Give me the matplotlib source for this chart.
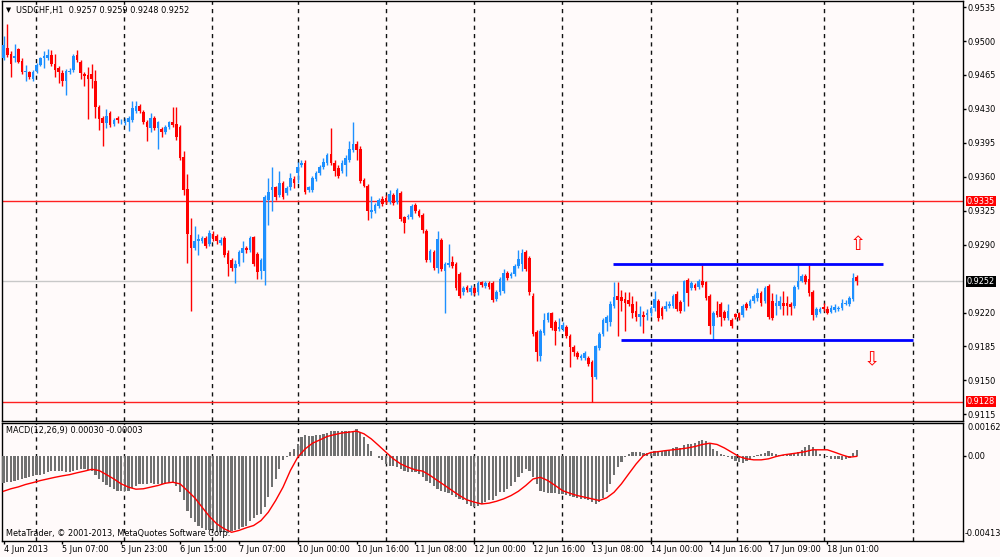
import numpy as np
import matplotlib
matplotlib.use("Agg")
import matplotlib.pyplot as plt
from matplotlib.transforms import blended_transform_factory

# ---------------- data (prices in pips = price * 10000) ----------------
opens_pips = [
9482,9493,9487,9483,9492,9479,9468,9468,9461,9469,9475,9482,9482,9486,9476,9472,9467,9459,9468,9470,
9486,9478,9466,9465,9466,9459,9432,9421,9415,9426,9414,9421,9416,9415,9416,9419,9428,9433,9427,9417,
9410,9421,9410,9409,9406,9411,9416,9414,9411,9380,9347,9300,9287,9294,9294,9297,9291,9301,9299,9292,
9297,9281,9274,9266,9270,9281,9287,9284,9298,9280,9263,9263,9336,9346,9349,9341,9354,9343,9349,9358,
9364,9372,9374,9346,9346,9358,9364,9370,9374,9384,9374,9369,9366,9372,9377,9388,9394,9389,9357,9351,
9324,9325,9330,9337,9338,9334,9341,9334,9343,9318,9318,9318,9331,9325,9321,9304,9274,9282,9266,9295,
9263,9269,9272,9270,9260,9241,9246,9241,9245,9241,9251,9247,9250,9250,9234,9241,9242,9261,9258,9260,
9268,9270,9282,9276,9237,9200,9175,9199,9212,9219,9210,9203,9203,9205,9196,9184,9178,9173,9173,9173,
9169,9153,9183,9198,9209,9210,9227,9237,9236,9234,9233,9229,9222,9215,9217,9217,9219,9225,9232,9225,
9224,9227,9227,9239,9231,9231,9254,9245,9248,9246,9253,9251,9237,9206,9222,9229,9221,9214,9212,9218,
9219,9217,9229,9227,9232,9235,9240,9232,9247,9232,9227,9227,9230,9230,9229,9227,9246,9253,9258,9255,
9241,9217,9221,9226,9224,9221,9223,9224,9225,9229,9229,9234,9257]
closes_pips = [
9496,9486,9476,9485,9478,9468,9469,9463,9468,9475,9482,9485,9486,9476,9470,9468,9459,9469,9469,9485,
9480,9467,9464,9461,9461,9432,9420,9415,9423,9413,9419,9419,9417,9417,9421,9431,9433,9428,9416,9411,
9421,9410,9416,9406,9411,9416,9413,9401,9379,9346,9301,9287,9294,9296,9297,9289,9302,9296,9294,9295,
9279,9270,9266,9270,9282,9287,9284,9297,9270,9262,9274,9339,9344,9349,9339,9354,9339,9348,9359,9354,
9370,9374,9344,9349,9359,9364,9370,9375,9382,9374,9366,9361,9374,9379,9389,9394,9388,9356,9351,9325,
9326,9331,9336,9332,9334,9342,9333,9346,9316,9312,9320,9330,9325,9320,9305,9274,9283,9266,9296,9265,
9270,9271,9268,9245,9237,9245,9243,9245,9240,9250,9248,9250,9246,9233,9241,9255,9261,9256,9260,9268,
9275,9281,9265,9241,9198,9179,9201,9212,9219,9204,9201,9205,9207,9196,9184,9179,9174,9175,9178,9167,
9153,9185,9198,9212,9215,9229,9236,9233,9232,9230,9229,9219,9215,9218,9215,9220,9225,9234,9214,9216,
9227,9229,9237,9224,9222,9252,9240,9250,9245,9253,9248,9235,9206,9220,9217,9215,9214,9222,9206,9215,
9214,9227,9225,9232,9237,9240,9230,9245,9215,9214,9230,9232,9227,9227,9226,9246,9253,9258,9251,9240,
9217,9224,9224,9224,9220,9225,9226,9225,9230,9230,9235,9256,9252]
highs_pips = [
9505,9518,9490,9497,9493,9483,9475,9469,9470,9477,9484,9490,9492,9491,9487,9474,9470,9471,9472,9487,
9491,9480,9468,9473,9476,9470,9434,9423,9430,9428,9421,9423,9420,9421,9423,9438,9438,9435,9429,9419,
9426,9423,9418,9411,9413,9418,9432,9432,9413,9387,9363,9317,9309,9301,9299,9299,9305,9304,9301,9298,
9299,9284,9276,9274,9284,9294,9289,9299,9299,9282,9276,9341,9359,9370,9351,9366,9356,9350,9364,9361,
9375,9377,9377,9351,9361,9366,9372,9379,9385,9410,9377,9372,9377,9382,9397,9416,9397,9392,9359,9353,
9340,9333,9338,9340,9341,9346,9343,9348,9345,9320,9322,9332,9333,9327,9323,9306,9285,9284,9304,9297,
9272,9291,9278,9272,9262,9247,9248,9248,9247,9252,9253,9252,9252,9252,9243,9257,9265,9263,9262,9270,
9284,9286,9284,9278,9240,9202,9203,9220,9221,9221,9212,9214,9210,9207,9198,9186,9180,9177,9180,9175,
9171,9187,9200,9214,9217,9232,9251,9251,9243,9241,9241,9237,9232,9227,9222,9224,9227,9242,9234,9227,
9232,9232,9239,9242,9233,9254,9256,9252,9250,9255,9269,9253,9239,9222,9232,9231,9223,9229,9214,9220,
9221,9229,9231,9234,9239,9245,9242,9247,9249,9240,9239,9237,9242,9237,9231,9248,9269,9260,9260,9269,
9243,9226,9226,9230,9227,9228,9229,9227,9234,9233,9237,9261,9259]
lows_pips = [
9480,9484,9463,9478,9477,9466,9459,9461,9459,9467,9474,9472,9480,9474,9463,9457,9454,9444,9466,9468,
9478,9461,9454,9420,9452,9421,9408,9392,9410,9411,9412,9415,9414,9413,9407,9417,9426,9426,9414,9397,
9406,9408,9389,9401,9404,9409,9411,9398,9377,9341,9271,9222,9284,9279,9292,9287,9289,9294,9291,9290,
9277,9258,9263,9250,9268,9272,9281,9282,9268,9255,9255,9248,9310,9325,9336,9339,9337,9341,9346,9348,
9354,9370,9342,9344,9344,9356,9362,9368,9372,9372,9361,9359,9364,9361,9375,9386,9377,9354,9349,9315,
9317,9323,9328,9330,9332,9332,9331,9332,9314,9302,9316,9316,9323,9318,9302,9272,9272,9264,9261,9263,
9220,9267,9266,9243,9235,9238,9241,9238,9238,9238,9246,9245,9244,9231,9232,9238,9240,9254,9256,9258,
9266,9263,9263,9238,9196,9170,9170,9197,9210,9202,9186,9201,9201,9194,9164,9175,9172,9171,9171,9165,
9128,9151,9181,9196,9201,9206,9225,9196,9222,9201,9227,9214,9211,9206,9199,9212,9216,9222,9211,9213,
9222,9225,9225,9222,9220,9222,9227,9243,9243,9244,9246,9233,9198,9192,9215,9206,9212,9212,9204,9213,
9212,9215,9223,9225,9230,9232,9227,9230,9213,9212,9217,9224,9217,9217,9217,9225,9244,9251,9249,9237,
9212,9215,9219,9222,9218,9219,9221,9222,9223,9228,9227,9232,9248]

# MACD main (histogram), one value per bar
macd_main = [
-0.00134,-0.00129,-0.00126,-0.00121,-0.00118,-0.00114,-0.00108,-0.00105,-0.00101,-0.00096,
-0.00092,-0.00088,-0.00080,-0.00075,-0.00072,-0.00072,-0.00075,-0.00077,-0.00077,-0.00072,
-0.00069,-0.00067,-0.00067,-0.00069,-0.00072,-0.00092,-0.00113,-0.00129,-0.00142,-0.00153,
-0.00163,-0.00170,-0.00174,-0.00174,-0.00170,-0.00158,-0.00147,-0.00140,-0.00137,-0.00137,
-0.00135,-0.00137,-0.00137,-0.00137,-0.00137,-0.00134,-0.00134,-0.00145,-0.00178,-0.00218,
-0.00267,-0.00303,-0.00324,-0.00340,-0.00351,-0.00364,-0.00364,-0.00369,-0.00373,-0.00373,
-0.00373,-0.00376,-0.00369,-0.00364,-0.00356,-0.00348,-0.00340,-0.00316,-0.00303,-0.00291,
-0.00283,-0.00251,-0.00202,-0.00153,-0.00113,-0.00064,-0.00023,-0.00004,0.00017,0.00033,
0.00058,0.00090,0.00103,0.00098,0.00098,0.00103,0.00103,0.00107,0.00110,0.00123,
0.00123,0.00120,0.00123,0.00120,0.00120,0.00118,0.00131,0.00115,0.00090,0.00058,
0.00025,0.00001,-0.00010,-0.00023,-0.00040,-0.00048,-0.00048,-0.00056,-0.00064,-0.00075,
-0.00080,-0.00080,-0.00080,-0.00088,-0.00105,-0.00121,-0.00134,-0.00145,-0.00161,-0.00170,
-0.00178,-0.00183,-0.00189,-0.00199,-0.00210,-0.00218,-0.00235,-0.00243,-0.00248,-0.00243,
-0.00235,-0.00226,-0.00218,-0.00215,-0.00194,-0.00178,-0.00178,-0.00161,-0.00145,-0.00129,
-0.00105,-0.00085,-0.00064,-0.00072,-0.00105,-0.00137,-0.00170,-0.00178,-0.00181,-0.00183,
-0.00183,-0.00186,-0.00186,-0.00189,-0.00194,-0.00199,-0.00205,-0.00210,-0.00213,-0.00218,
-0.00226,-0.00235,-0.00226,-0.00205,-0.00178,-0.00137,-0.00096,-0.00056,-0.00032,-0.00007,
0.00009,0.00017,0.00017,0.00016,0.00012,0.00012,0.00016,0.00022,0.00022,0.00022,
0.00025,0.00029,0.00038,0.00042,0.00038,0.00050,0.00055,0.00058,0.00061,0.00071,
0.00077,0.00071,0.00055,0.00033,0.00022,0.00009,0.00006,-0.00004,-0.00015,-0.00027,
-0.00032,-0.00036,-0.00027,-0.00015,-0.00007,0.00004,0.00009,0.00012,0.00022,0.00012,
0.00009,0.00006,0.00006,0.00009,0.00009,0.00012,0.00017,0.00029,0.00042,0.00050,
0.00045,0.00029,0.00009,0.00001,-0.00004,-0.00015,-0.00015,-0.00015,-0.00020,-0.00015,
-0.00010,0.00014,0.00030]

# MACD signal, read at every second bar
signal_step = 2
macd_signal = [
-0.00173,-0.00161,-0.00152,-0.00140,-0.00131,-0.00121,-0.00113,-0.00105,-0.00098,-0.00092,-0.00083,-0.00075,-0.00066,
-0.00072,-0.00092,-0.00113,-0.00137,-0.00153,-0.00163,-0.00161,-0.00153,-0.00145,-0.00134,-0.00129,-0.00137,
-0.00170,-0.00205,-0.00251,-0.00296,-0.00332,-0.00356,-0.00373,-0.00364,-0.00351,-0.00340,-0.00316,-0.00275,
-0.00218,-0.00153,-0.00072,-0.00007,0.00033,0.00061,0.00077,0.00094,0.00103,0.00111,0.00115,0.00120,
0.00107,0.00082,0.00050,0.00017,-0.00015,-0.00040,-0.00056,-0.00069,-0.00075,-0.00096,-0.00121,-0.00145,
-0.00170,-0.00194,-0.00215,-0.00226,-0.00235,-0.00231,-0.00222,-0.00210,-0.00194,-0.00173,-0.00145,-0.00113,
-0.00105,-0.00121,-0.00145,-0.00170,-0.00183,-0.00194,-0.00202,-0.00210,-0.00218,-0.00205,-0.00178,-0.00137,
-0.00088,-0.00040,0.00001,0.00016,0.00020,0.00025,0.00029,0.00033,0.00038,0.00045,0.00055,0.00061,
0.00055,0.00038,0.00017,-0.00004,-0.00015,-0.00020,-0.00020,-0.00015,-0.00004,0.00004,0.00009,0.00014,
0.00020,0.00029,0.00029,0.00029,0.00017,0.00004,-0.00007,-0.00003]

time_labels = ["4 Jun 2013", "5 Jun 07:00", "5 Jun 23:00", "6 Jun 15:00", "7 Jun 07:00",
               "10 Jun 00:00", "10 Jun 16:00", "11 Jun 08:00", "12 Jun 00:00", "12 Jun 16:00",
               "13 Jun 08:00", "14 Jun 00:00", "14 Jun 16:00", "17 Jun 09:00", "18 Jun 01:00"]
label_bars = [0, 16, 32, 48, 64, 80, 96, 112, 128, 144, 160, 176, 192, 208, 224]
grid_bars = [8.8, 32.8, 56.7, 80.0, 104.0, 127.9, 151.9, 176.0, 199.4, 223.2, 247.2]

price_ticks = [0.9535, 0.9500, 0.9465, 0.9430, 0.9395, 0.9360, 0.9325, 0.9290,
               0.9220, 0.9185, 0.9150, 0.9115]
red_levels = [0.9335, 0.9128]
bid_price = 0.9252
channel_top = (0.9270, 165.7, 239.2)     # price, from bar, to bar
channel_bottom = (0.9192, 167.9, 247.2)
arrow_up = (232.2, 0.9290)
arrow_down = (236.0, 0.9171)
macd_range = (-0.00413, 0.00162)

title_text = "USDCHF,H1  0.9257 0.9259 0.9248 0.9252"
macd_text = "MACD(12,26,9) 0.00030 -0.00003"
copyright_text = "MetaTrader, \u00a9 2001-2013, MetaQuotes Software Corp."

# ---------------- styling ----------------
BG = "#FFFAFA"
BULL = "#1E90FF"
BEAR = "#FF0000"
FS = 5.9
plt.rcParams['font.family'] = ['DejaVu Sans']

opens = np.array(opens_pips) / 10000.0
closes = np.array(closes_pips) / 10000.0
highs = np.array(highs_pips) / 10000.0
lows = np.array(lows_pips) / 10000.0
n = len(closes)
xb = np.arange(n)

W, H = 1000, 557
fig = plt.figure(figsize=(W / 100, H / 100), dpi=100, facecolor=BG)

def fx(px):
    return px / W

def fy(py):
    return 1 - py / H

ax = fig.add_axes([fx(2), fy(421), fx(963) - fx(2), fy(1) - fy(421)], facecolor=BG)
axm = fig.add_axes([fx(2), fy(540.5), fx(963) - fx(2), fy(422.5) - fy(540.5)], facecolor=BG)

PX_PER_BAR = 3.678
xlim = ((2 - 3.5) / PX_PER_BAR, (963 - 3.5) / PX_PER_BAR)
for a in (ax, axm):
    a.set_xlim(*xlim)
    for s in a.spines.values():
        s.set_color("black")
        s.set_linewidth(1)
    for g in grid_bars:
        a.axvline(g, color="#111111", lw=1, ls=(0, (3, 3)), zorder=1)

ax.set_ylim(0.91081, 0.95413)

# horizontal levels
for lv in red_levels:
    ax.axhline(lv, color="#FF2020", lw=1, zorder=2)
ax.axhline(bid_price, color="#C8C8C8", lw=1, zorder=2)

# candles
colors = np.where(closes >= opens, BULL, BEAR)
ax.vlines(xb, lows, highs, colors=colors, lw=1, zorder=3)
body_h = np.maximum(np.abs(closes - opens), 0.00008)
ax.bar(xb, body_h, bottom=np.minimum(opens, closes), width=0.72,
       color=colors, linewidth=0, zorder=4)

# channel lines
for p, x0, x1 in (channel_top, channel_bottom):
    ax.plot([x0, x1], [p, p], color="#0000FF", lw=2, zorder=5, solid_capstyle="butt")

# arrows
ax.text(arrow_up[0], arrow_up[1], "\u21e7", color="#FF0000", fontsize=14,
        ha="center", va="center", zorder=6)
ax.text(arrow_down[0], arrow_down[1], "\u21e9", color="#FF0000", fontsize=14,
        ha="center", va="center", zorder=6)

# right price axis
ax.yaxis.tick_right()
ax.set_yticks(price_ticks)
ax.set_yticklabels([f"{t:.4f}" for t in price_ticks])
ax.tick_params(axis="y", length=2.2, width=1, pad=0.8, labelsize=FS, colors="black")
ax.set_xticks([])

trans = blended_transform_factory(ax.transAxes, ax.transData)
xbox = (966.5 - 2) / 961
for lv in red_levels:
    ax.text(xbox, lv, f"{lv:.4f}", transform=trans, color="white", fontsize=FS,
            ha="left", va="center", zorder=10, clip_on=False,
            bbox=dict(boxstyle="square,pad=0.12", facecolor="#FF0000", edgecolor="none"))
ax.text(xbox, bid_price, f"{bid_price:.4f}", transform=trans, color="white", fontsize=FS,
        ha="left", va="center", zorder=10, clip_on=False,
        bbox=dict(boxstyle="square,pad=0.12", facecolor="black", edgecolor="none"))

# MACD panel
axm.set_ylim(*macd_range)
axm.bar(xb, macd_main, width=0.6, color="#707070", linewidth=0, zorder=3)
sig_x = np.arange(0, n, signal_step)[:len(macd_signal)]
axm.plot(sig_x, macd_signal, color="#FF0000", lw=1, zorder=4)

axm.yaxis.tick_right()
axm.set_yticks([0.0])
axm.set_yticklabels(["0.00"])
axm.tick_params(axis="y", length=2.2, width=1, pad=0.8, labelsize=FS, colors="black")
fig.text(fx(967), fy(428), f"{macd_range[1]:.5f}", fontsize=FS, ha="left", va="center")
fig.text(fx(965), fy(534), f"{macd_range[0]:.5f}", fontsize=FS, ha="left", va="center")

axm.set_xticks(label_bars)
axm.set_xticklabels(time_labels, ha="left")
axm.tick_params(axis="x", length=2.2, width=1, pad=0.8, labelsize=FS, colors="black")

# texts
fig.text(fx(6), fy(10), "\u25bc", fontsize=4.8, ha="left", va="center")
fig.text(fx(16), fy(10), title_text, fontsize=FS, ha="left", va="center")
fig.text(fx(6), fy(430), macd_text, fontsize=FS, ha="left", va="center")
fig.text(fx(6), fy(533), copyright_text, fontsize=FS, ha="left", va="center")

fig.savefig("out.png", dpi=100, facecolor=BG)
